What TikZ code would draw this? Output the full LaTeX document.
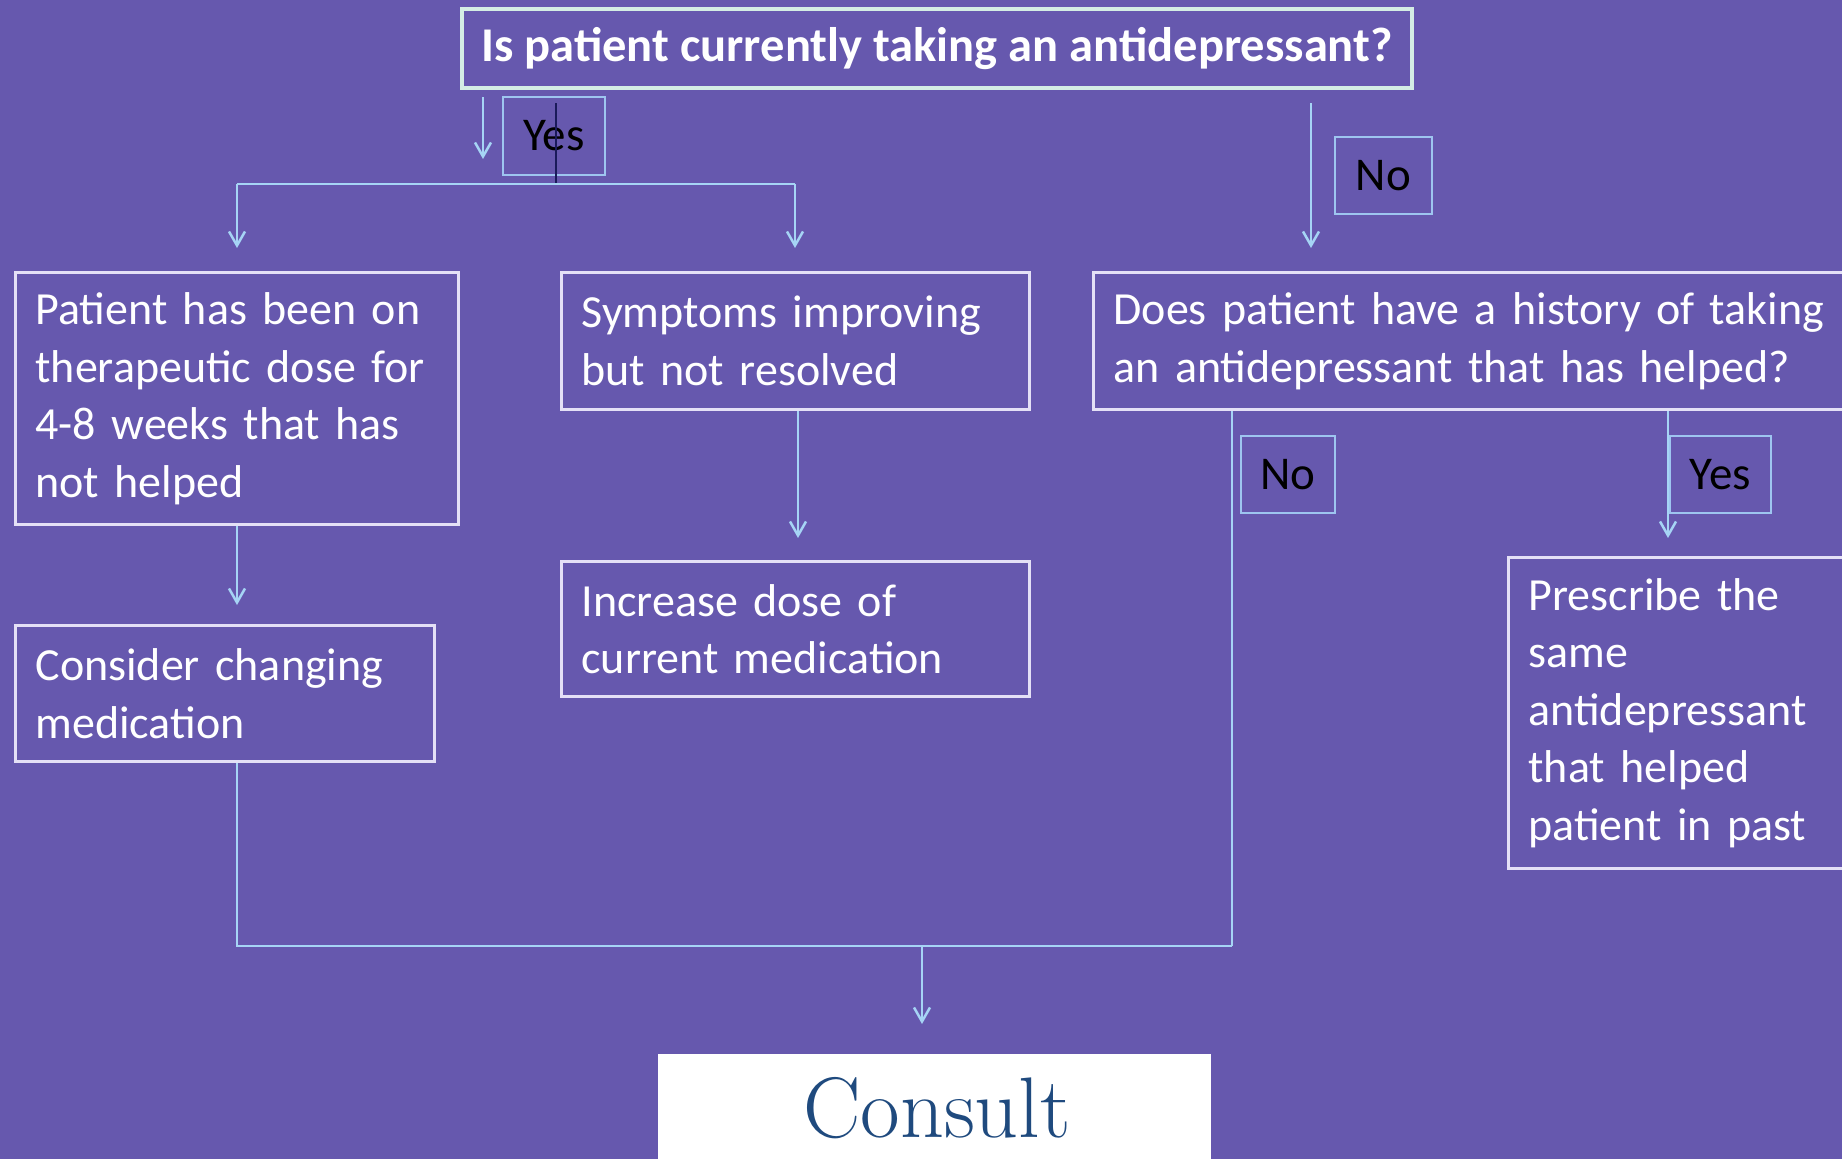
\documentclass[tikz,border=0pt]{standalone}
\usepackage{fontspec}
\setmainfont{Carlito}
\usetikzlibrary{arrows.meta}
\definecolor{bg}{HTML}{6658AE}
\definecolor{boxc}{HTML}{E4E0F6}
\definecolor{topc}{HTML}{D4EDE4}
\definecolor{conc}{HTML}{A6D4F5}
\definecolor{lblc}{HTML}{9EC5F0}
\definecolor{navy}{HTML}{1A1A5A}
\definecolor{consc}{HTML}{1F4A7E}
\begin{document}
\begin{tikzpicture}[x=1pt,y=-1pt,
  fbox/.style={draw=boxc, line width=3pt, inner xsep=20pt, inner ysep=0pt, anchor=north west, text=white, align=left,
    font=\fontsize{46}{57.5}\selectfont},
  lbl/.style={draw=lblc, line width=1.5pt, anchor=north west, inner sep=0pt, text=black,
    font=\fontsize{47}{52}\selectfont},
  conn/.style={draw=conc, line width=2.5pt},
  arr/.style={conn, -{Straight Barb[length=14pt,width=16pt,line width=2.5pt]}}]
\fill[bg] (0,0) rectangle (1842,1159);
\clip (0,0) rectangle (1842,1159);
\useasboundingbox (0,0) rectangle (1842,1159);

% title
\node[draw=topc, line width=4pt, anchor=north west, minimum width=950pt, minimum height=79pt, inner sep=0pt,
  text=white, font=\fontsize{48.5}{54}\selectfont\bfseries] (top) at (460,7) {Is patient currently taking an antidepressant?};

% boxes
\node[fbox, text width=403pt, minimum height=252pt] (A) at (14,271)
  {Patient has been on\\therapeutic dose for\\4-8 weeks that has\\not helped};
\node[fbox, text width=428pt, minimum height=137pt] (B) at (560,271)
  {Symptoms improving\\but not resolved};
\node[fbox, text width=760pt, minimum height=137pt] (C) at (1092,271)
  {Does patient have a history of taking\\an antidepressant that has helped?};
\node[fbox, text width=379pt, minimum height=136pt] (D) at (14,624)
  {Consider changing\\medication};
\node[fbox, text width=428pt, minimum height=135pt] (E) at (560,560)
  {Increase dose of\\current medication};
\node[fbox, text width=360pt, minimum height=311pt] (F) at (1507,556)
  {Prescribe the\\same\\antidepressant\\that helped\\patient in past};

% consult
\node[fill=white, anchor=north west, minimum width=553pt, minimum height=130pt, inner sep=0pt] (G) at (658,1054) {};
\node[anchor=base, text=consc, font=\fontfamily{lmr}\fontsize{86}{90}\selectfont] (Gt) at (937,1137) {Consult};

% labels
\node[lbl, minimum width=102pt, minimum height=78pt] (y1) at (502,96) {Yes};
\node[lbl, minimum width=97pt, minimum height=77pt] (n1) at (1334,136) {No};
\node[lbl, minimum width=94pt, minimum height=77pt] (n2) at (1240,435) {No};
\node[lbl, minimum width=101pt, minimum height=77pt] (y2) at (1669,435) {Yes};

% coordinates
\coordinate (ys) at (483,97);
\coordinate (ye) at (483,159);
\coordinate (dk1) at (556,103);
\coordinate (dk2) at (556,184);
\coordinate (hl) at (237,184);
\coordinate (hr) at (795,184);
\coordinate (ns) at (1311,103);
\coordinate (bl) at (237,946);
\coordinate (br) at (1232,946);
\coordinate (bm) at (922,946);

% connectors
\draw[arr] (ys) -- (ye);
\draw[draw=navy, line width=2pt] (dk1) -- (dk2);
\draw[conn] (hl) -- (hr);
\draw[arr] (hl) -- (237,248);
\draw[arr] (hr) -- (795,248);
\draw[arr] (ns) -- (1311,248);
\draw[arr] (A.south -| hl) -- (237,605);
\draw[arr] (B.south -| 798,0) -- (798,538);
\draw[conn] (C.south -| br) -- (br);
\draw[arr] (C.south -| 1668,0) -- (1668,538);
\draw[conn] (D.south -| bl) -- (bl) -- (br);
\draw[arr] (bm) -- (922,1024);
\end{tikzpicture}
\end{document}
